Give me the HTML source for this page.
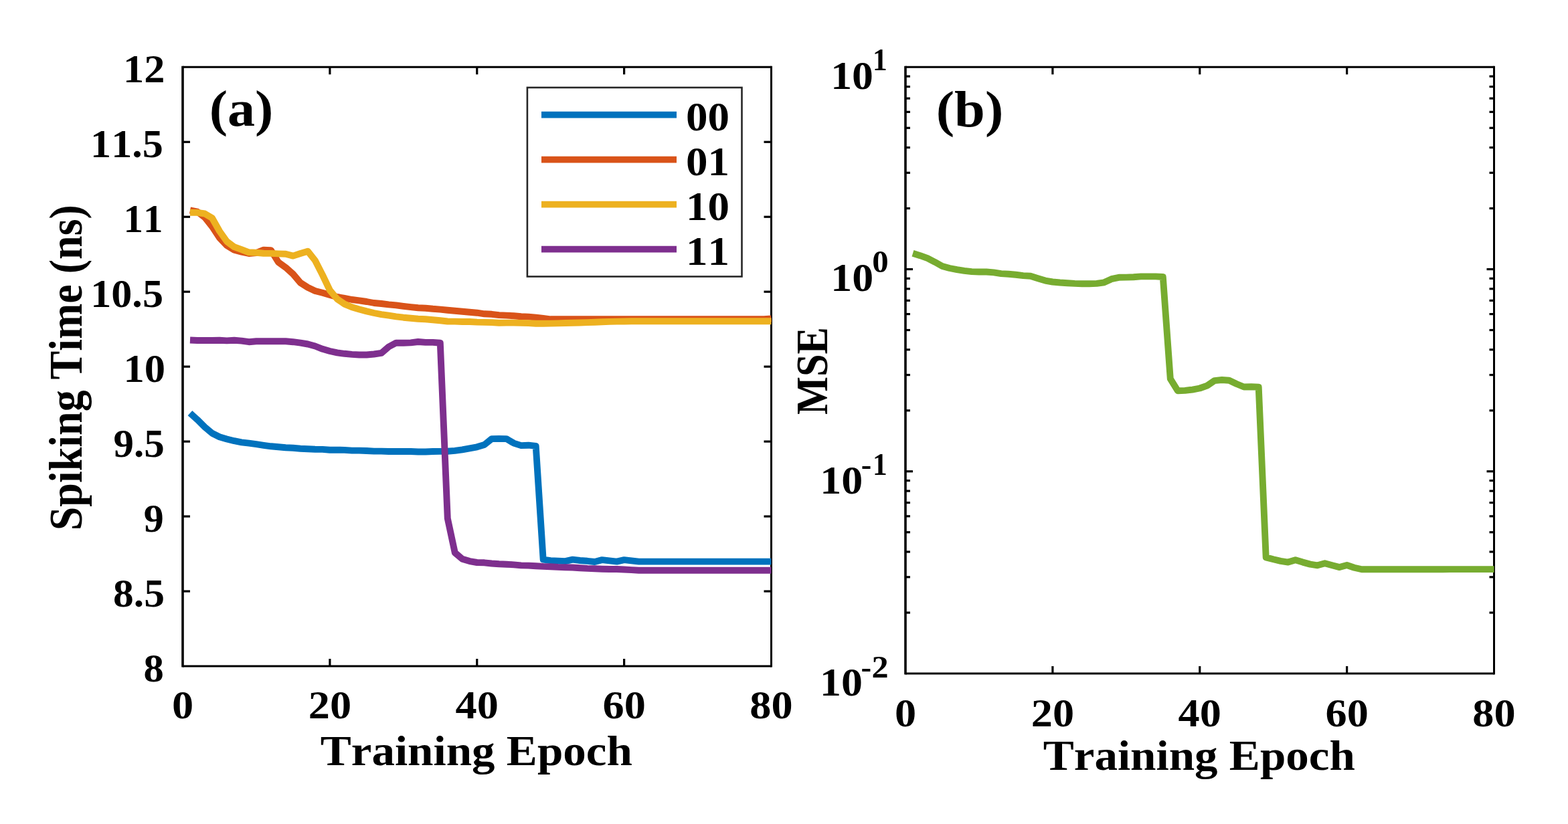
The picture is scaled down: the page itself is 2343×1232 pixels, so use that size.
<!DOCTYPE html>
<html><head><meta charset="utf-8"><style>
html,body{margin:0;padding:0;background:#fff;}
svg{display:block;} text{font-kerning:none;font-feature-settings:"kern" 0;}
</style></head><body>
<svg width="2343" height="1232" viewBox="0 0 2343 1232" font-family="&quot;Liberation Serif&quot;, serif" font-weight="bold" fill="#000">
<rect width="2343" height="1232" fill="#fff"/>
<line x1="273.0" y1="98.8" x2="273.0" y2="997.5" stroke="#000" stroke-width="3.6"/>
<line x1="1152.5" y1="98.8" x2="1152.5" y2="997.5" stroke="#000" stroke-width="3"/>
<line x1="273.0" y1="100.3" x2="1152.5" y2="100.3" stroke="#000" stroke-width="3"/>
<line x1="273.0" y1="996.0" x2="1152.5" y2="996.0" stroke="#000" stroke-width="3"/>
<line x1="273.0" y1="884.04" x2="284.0" y2="884.04" stroke="#000" stroke-width="3.2"/>
<line x1="1152.5" y1="884.04" x2="1141.5" y2="884.04" stroke="#000" stroke-width="3.2"/>
<line x1="273.0" y1="772.08" x2="284.0" y2="772.08" stroke="#000" stroke-width="3.2"/>
<line x1="1152.5" y1="772.08" x2="1141.5" y2="772.08" stroke="#000" stroke-width="3.2"/>
<line x1="273.0" y1="660.11" x2="284.0" y2="660.11" stroke="#000" stroke-width="3.2"/>
<line x1="1152.5" y1="660.11" x2="1141.5" y2="660.11" stroke="#000" stroke-width="3.2"/>
<line x1="273.0" y1="548.15" x2="284.0" y2="548.15" stroke="#000" stroke-width="3.2"/>
<line x1="1152.5" y1="548.15" x2="1141.5" y2="548.15" stroke="#000" stroke-width="3.2"/>
<line x1="273.0" y1="436.19" x2="284.0" y2="436.19" stroke="#000" stroke-width="3.2"/>
<line x1="1152.5" y1="436.19" x2="1141.5" y2="436.19" stroke="#000" stroke-width="3.2"/>
<line x1="273.0" y1="324.23" x2="284.0" y2="324.23" stroke="#000" stroke-width="3.2"/>
<line x1="1152.5" y1="324.23" x2="1141.5" y2="324.23" stroke="#000" stroke-width="3.2"/>
<line x1="273.0" y1="212.26" x2="284.0" y2="212.26" stroke="#000" stroke-width="3.2"/>
<line x1="1152.5" y1="212.26" x2="1141.5" y2="212.26" stroke="#000" stroke-width="3.2"/>
<line x1="492.88" y1="996.0" x2="492.88" y2="985.0" stroke="#000" stroke-width="3.2"/>
<line x1="492.88" y1="100.3" x2="492.88" y2="111.3" stroke="#000" stroke-width="3.2"/>
<line x1="712.75" y1="996.0" x2="712.75" y2="985.0" stroke="#000" stroke-width="3.2"/>
<line x1="712.75" y1="100.3" x2="712.75" y2="111.3" stroke="#000" stroke-width="3.2"/>
<line x1="932.62" y1="996.0" x2="932.62" y2="985.0" stroke="#000" stroke-width="3.2"/>
<line x1="932.62" y1="100.3" x2="932.62" y2="111.3" stroke="#000" stroke-width="3.2"/>
<polyline points="283.99,617.60 294.99,627.60 305.98,638.50 316.98,647.70 327.97,653.20 338.96,656.50 349.96,659.20 360.95,661.30 371.94,662.60 382.94,664.10 393.93,665.80 404.93,667.30 415.92,668.30 426.91,669.20 437.91,669.70 448.90,670.70 459.89,671.20 470.89,671.70 481.88,671.90 492.88,672.70 503.87,672.70 514.86,672.90 525.86,673.60 536.85,673.60 547.84,674.00 558.84,674.60 569.83,674.60 580.83,675.00 591.82,675.00 602.81,675.00 613.81,675.00 624.80,675.50 635.79,675.50 646.79,675.00 657.78,674.90 668.77,674.70 679.77,673.90 690.76,672.40 701.76,670.30 712.75,668.30 723.74,665.00 734.74,656.10 745.73,656.00 756.73,656.10 767.72,662.60 778.71,666.10 789.71,665.70 800.70,666.90 811.69,836.70 822.69,838.10 833.68,838.60 844.67,839.10 855.67,836.70 866.66,838.00 877.66,838.80 888.65,840.00 899.64,837.10 910.64,838.40 921.63,839.60 932.62,837.10 943.62,838.40 954.61,839.60 965.61,839.60 976.60,839.60 987.59,839.60 998.59,839.60 1009.58,839.60 1020.58,839.60 1031.57,839.60 1042.56,839.60 1053.56,839.60 1064.55,839.60 1075.54,839.60 1086.54,839.60 1097.53,839.60 1108.53,839.60 1119.52,839.60 1130.51,839.60 1141.51,839.60 1152.50,839.60" fill="none" stroke="#0072BD" stroke-width="9.9" stroke-linejoin="round" stroke-linecap="butt"/>
<polyline points="283.99,314.30 294.99,316.60 305.98,325.00 316.98,338.80 327.97,355.50 338.96,367.00 349.96,373.70 360.95,376.60 371.94,379.00 382.94,378.10 393.93,373.70 404.93,374.10 415.92,392.00 426.91,399.90 437.91,409.80 448.90,422.80 459.89,429.80 470.89,435.00 481.88,437.80 492.88,440.90 503.87,444.00 514.86,445.90 525.86,448.00 536.85,449.30 547.84,451.00 558.84,453.00 569.83,454.00 580.83,455.40 591.82,456.40 602.81,457.90 613.81,459.20 624.80,460.30 635.79,460.70 646.79,461.80 657.78,462.60 668.77,463.70 679.77,464.70 690.76,465.70 701.76,466.70 712.75,467.70 723.74,469.30 734.74,469.80 745.73,471.10 756.73,471.60 767.72,472.30 778.71,473.30 789.71,473.60 800.70,474.60 811.69,476.00 822.69,477.30 833.68,477.30 844.67,477.30 855.67,477.30 866.66,477.30 877.66,477.30 888.65,477.30 899.64,477.30 910.64,477.30 921.63,477.30 932.62,477.30 943.62,477.30 954.61,477.30 965.61,477.30 976.60,477.30 987.59,477.30 998.59,477.30 1009.58,477.30 1020.58,477.30 1031.57,477.30 1042.56,477.30 1053.56,477.30 1064.55,477.30 1075.54,477.30 1086.54,477.30 1097.53,477.30 1108.53,477.30 1119.52,477.30 1130.51,477.30 1141.51,477.30 1152.50,476.40" fill="none" stroke="#D95319" stroke-width="9.9" stroke-linejoin="round" stroke-linecap="butt"/>
<polyline points="283.99,317.70 294.99,317.90 305.98,319.50 316.98,326.00 327.97,345.50 338.96,361.00 349.96,369.20 360.95,373.10 371.94,377.30 382.94,377.70 393.93,378.80 404.93,378.90 415.92,379.40 426.91,379.80 437.91,382.60 448.90,379.00 459.89,375.70 470.89,389.50 481.88,411.00 492.88,434.00 503.87,447.10 514.86,454.60 525.86,459.30 536.85,462.50 547.84,465.40 558.84,468.00 569.83,470.10 580.83,471.70 591.82,473.40 602.81,474.70 613.81,475.70 624.80,476.70 635.79,477.30 646.79,478.20 657.78,479.30 668.77,480.50 679.77,480.60 690.76,481.00 701.76,481.00 712.75,481.60 723.74,481.90 734.74,482.10 745.73,482.80 756.73,482.60 767.72,482.60 778.71,482.90 789.71,483.10 800.70,483.80 811.69,483.80 822.69,483.60 833.68,483.40 844.67,483.07 855.67,482.75 866.66,482.43 877.66,482.10 888.65,481.70 899.64,481.30 910.64,480.90 921.63,480.67 932.62,480.43 943.62,480.20 954.61,480.30 965.61,480.30 976.60,480.30 987.59,480.30 998.59,480.30 1009.58,480.30 1020.58,480.30 1031.57,480.30 1042.56,480.30 1053.56,480.30 1064.55,480.30 1075.54,480.30 1086.54,480.30 1097.53,480.30 1108.53,480.30 1119.52,480.30 1130.51,480.30 1141.51,480.30 1152.50,480.30" fill="none" stroke="#EDB120" stroke-width="9.9" stroke-linejoin="round" stroke-linecap="butt"/>
<polyline points="283.99,508.50 294.99,509.00 305.98,509.00 316.98,509.00 327.97,508.80 338.96,509.40 349.96,508.80 360.95,509.60 371.94,511.20 382.94,510.30 393.93,510.30 404.93,510.30 415.92,510.30 426.91,510.30 437.91,511.20 448.90,512.60 459.89,514.50 470.89,517.50 481.88,521.80 492.88,525.00 503.87,527.40 514.86,528.80 525.86,529.90 536.85,530.50 547.84,530.50 558.84,529.50 569.83,527.90 580.83,518.50 591.82,512.60 602.81,512.80 613.81,512.40 624.80,511.00 635.79,511.90 646.79,511.90 657.78,512.80 668.77,775.00 679.77,826.40 690.76,835.70 701.76,839.10 712.75,841.00 723.74,841.30 734.74,842.50 745.73,843.30 756.73,843.70 767.72,844.40 778.71,845.40 789.71,845.60 800.70,846.20 811.69,846.90 822.69,847.20 833.68,847.90 844.67,848.30 855.67,848.50 866.66,849.20 877.66,849.90 888.65,850.20 899.64,850.70 910.64,851.00 921.63,851.00 932.62,851.50 943.62,852.10 954.61,852.80 965.61,852.80 976.60,852.80 987.59,852.80 998.59,852.80 1009.58,852.80 1020.58,852.80 1031.57,852.80 1042.56,852.80 1053.56,852.80 1064.55,852.80 1075.54,852.80 1086.54,852.80 1097.53,852.80 1108.53,852.80 1119.52,852.80 1130.51,852.80 1141.51,852.80 1152.50,852.80" fill="none" stroke="#7E2F8E" stroke-width="9.9" stroke-linejoin="round" stroke-linecap="butt"/>
<text transform="translate(214.39,1018.50) scale(1.0281,1)" font-size="59">8</text>
<text transform="translate(169.06,906.54) scale(1.0426,1)" font-size="59">8.5</text>
<text transform="translate(214.76,794.58) scale(1.0173,1)" font-size="59">9</text>
<text transform="translate(169.53,682.61) scale(1.0332,1)" font-size="59">9.5</text>
<text transform="translate(184.39,570.65) scale(1.0610,1)" font-size="59">10</text>
<text transform="translate(135.22,458.69) scale(1.0533,1)" font-size="59">10.5</text>
<text transform="translate(184.58,346.73) scale(0.9996,1)" font-size="59">11</text>
<text transform="translate(135.12,234.76) scale(1.0533,1)" font-size="59">11.5</text>
<text transform="translate(184.11,122.80) scale(1.0572,1)" font-size="59">12</text>
<text transform="translate(273.00,1074.30) scale(1.09,1)" font-size="59" text-anchor="middle" >0</text>
<text transform="translate(492.88,1074.30) scale(1.09,1)" font-size="59" text-anchor="middle" >20</text>
<text transform="translate(712.75,1074.30) scale(1.09,1)" font-size="59" text-anchor="middle" >40</text>
<text transform="translate(932.62,1074.30) scale(1.09,1)" font-size="59" text-anchor="middle" >60</text>
<text transform="translate(1152.50,1074.30) scale(1.09,1)" font-size="59" text-anchor="middle" >80</text>
<text transform="translate(478.72,1143.80) scale(1.0789,1)" font-size="64">Training Epoch</text>
<text transform="translate(122.0,549.7) rotate(-90) scale(1,1.08)" font-size="64" text-anchor="middle">Spiking Time (ns)</text>
<text transform="translate(312.69,187.80) scale(1.0801,1)" font-size="76">(a)</text>
<rect x="787.9" y="130.9" width="320.6" height="282.6" fill="#fff" stroke="#262626" stroke-width="2.6"/>
<line x1="809" y1="171.6" x2="1011" y2="171.6" stroke="#0072BD" stroke-width="9.9"/>
<text transform="translate(1025.00,195.00) scale(1.075,1)" font-size="60.5" text-anchor="start" >00</text>
<line x1="809" y1="238.6" x2="1011" y2="238.6" stroke="#D95319" stroke-width="9.9"/>
<text transform="translate(1025.00,262.00) scale(1.075,1)" font-size="60.5" text-anchor="start" >01</text>
<line x1="809" y1="305.6" x2="1011" y2="305.6" stroke="#EDB120" stroke-width="9.9"/>
<text transform="translate(1025.00,329.00) scale(1.075,1)" font-size="60.5" text-anchor="start" >10</text>
<line x1="809" y1="372.6" x2="1011" y2="372.6" stroke="#7E2F8E" stroke-width="9.9"/>
<text transform="translate(1025.00,396.00) scale(1.075,1)" font-size="60.5" text-anchor="start" >11</text>
<line x1="1353.0" y1="98.8" x2="1353.0" y2="1008.5" stroke="#000" stroke-width="3.6"/>
<line x1="2232.5" y1="98.8" x2="2232.5" y2="1008.5" stroke="#000" stroke-width="3"/>
<line x1="1353.0" y1="100.3" x2="2232.5" y2="100.3" stroke="#000" stroke-width="3"/>
<line x1="1353.0" y1="1007.0" x2="2232.5" y2="1007.0" stroke="#000" stroke-width="3"/>
<line x1="1353.0" y1="402.53" x2="1364.0" y2="402.53" stroke="#000" stroke-width="3.2"/>
<line x1="2232.5" y1="402.53" x2="2221.5" y2="402.53" stroke="#000" stroke-width="3.2"/>
<line x1="1353.0" y1="704.77" x2="1364.0" y2="704.77" stroke="#000" stroke-width="3.2"/>
<line x1="2232.5" y1="704.77" x2="2221.5" y2="704.77" stroke="#000" stroke-width="3.2"/>
<line x1="1353.0" y1="916.02" x2="1360.0" y2="916.02" stroke="#000" stroke-width="3.2"/>
<line x1="2232.5" y1="916.02" x2="2225.5" y2="916.02" stroke="#000" stroke-width="3.2"/>
<line x1="1353.0" y1="862.80" x2="1360.0" y2="862.80" stroke="#000" stroke-width="3.2"/>
<line x1="2232.5" y1="862.80" x2="2225.5" y2="862.80" stroke="#000" stroke-width="3.2"/>
<line x1="1353.0" y1="825.04" x2="1360.0" y2="825.04" stroke="#000" stroke-width="3.2"/>
<line x1="2232.5" y1="825.04" x2="2225.5" y2="825.04" stroke="#000" stroke-width="3.2"/>
<line x1="1353.0" y1="795.75" x2="1360.0" y2="795.75" stroke="#000" stroke-width="3.2"/>
<line x1="2232.5" y1="795.75" x2="2225.5" y2="795.75" stroke="#000" stroke-width="3.2"/>
<line x1="1353.0" y1="771.82" x2="1360.0" y2="771.82" stroke="#000" stroke-width="3.2"/>
<line x1="2232.5" y1="771.82" x2="2225.5" y2="771.82" stroke="#000" stroke-width="3.2"/>
<line x1="1353.0" y1="751.58" x2="1360.0" y2="751.58" stroke="#000" stroke-width="3.2"/>
<line x1="2232.5" y1="751.58" x2="2225.5" y2="751.58" stroke="#000" stroke-width="3.2"/>
<line x1="1353.0" y1="734.06" x2="1360.0" y2="734.06" stroke="#000" stroke-width="3.2"/>
<line x1="2232.5" y1="734.06" x2="2225.5" y2="734.06" stroke="#000" stroke-width="3.2"/>
<line x1="1353.0" y1="718.60" x2="1360.0" y2="718.60" stroke="#000" stroke-width="3.2"/>
<line x1="2232.5" y1="718.60" x2="2225.5" y2="718.60" stroke="#000" stroke-width="3.2"/>
<line x1="1353.0" y1="613.79" x2="1360.0" y2="613.79" stroke="#000" stroke-width="3.2"/>
<line x1="2232.5" y1="613.79" x2="2225.5" y2="613.79" stroke="#000" stroke-width="3.2"/>
<line x1="1353.0" y1="560.56" x2="1360.0" y2="560.56" stroke="#000" stroke-width="3.2"/>
<line x1="2232.5" y1="560.56" x2="2225.5" y2="560.56" stroke="#000" stroke-width="3.2"/>
<line x1="1353.0" y1="522.80" x2="1360.0" y2="522.80" stroke="#000" stroke-width="3.2"/>
<line x1="2232.5" y1="522.80" x2="2225.5" y2="522.80" stroke="#000" stroke-width="3.2"/>
<line x1="1353.0" y1="493.51" x2="1360.0" y2="493.51" stroke="#000" stroke-width="3.2"/>
<line x1="2232.5" y1="493.51" x2="2225.5" y2="493.51" stroke="#000" stroke-width="3.2"/>
<line x1="1353.0" y1="469.58" x2="1360.0" y2="469.58" stroke="#000" stroke-width="3.2"/>
<line x1="2232.5" y1="469.58" x2="2225.5" y2="469.58" stroke="#000" stroke-width="3.2"/>
<line x1="1353.0" y1="449.35" x2="1360.0" y2="449.35" stroke="#000" stroke-width="3.2"/>
<line x1="2232.5" y1="449.35" x2="2225.5" y2="449.35" stroke="#000" stroke-width="3.2"/>
<line x1="1353.0" y1="431.82" x2="1360.0" y2="431.82" stroke="#000" stroke-width="3.2"/>
<line x1="2232.5" y1="431.82" x2="2225.5" y2="431.82" stroke="#000" stroke-width="3.2"/>
<line x1="1353.0" y1="416.36" x2="1360.0" y2="416.36" stroke="#000" stroke-width="3.2"/>
<line x1="2232.5" y1="416.36" x2="2225.5" y2="416.36" stroke="#000" stroke-width="3.2"/>
<line x1="1353.0" y1="311.55" x2="1360.0" y2="311.55" stroke="#000" stroke-width="3.2"/>
<line x1="2232.5" y1="311.55" x2="2225.5" y2="311.55" stroke="#000" stroke-width="3.2"/>
<line x1="1353.0" y1="258.33" x2="1360.0" y2="258.33" stroke="#000" stroke-width="3.2"/>
<line x1="2232.5" y1="258.33" x2="2225.5" y2="258.33" stroke="#000" stroke-width="3.2"/>
<line x1="1353.0" y1="220.57" x2="1360.0" y2="220.57" stroke="#000" stroke-width="3.2"/>
<line x1="2232.5" y1="220.57" x2="2225.5" y2="220.57" stroke="#000" stroke-width="3.2"/>
<line x1="1353.0" y1="191.28" x2="1360.0" y2="191.28" stroke="#000" stroke-width="3.2"/>
<line x1="2232.5" y1="191.28" x2="2225.5" y2="191.28" stroke="#000" stroke-width="3.2"/>
<line x1="1353.0" y1="167.35" x2="1360.0" y2="167.35" stroke="#000" stroke-width="3.2"/>
<line x1="2232.5" y1="167.35" x2="2225.5" y2="167.35" stroke="#000" stroke-width="3.2"/>
<line x1="1353.0" y1="147.12" x2="1360.0" y2="147.12" stroke="#000" stroke-width="3.2"/>
<line x1="2232.5" y1="147.12" x2="2225.5" y2="147.12" stroke="#000" stroke-width="3.2"/>
<line x1="1353.0" y1="129.59" x2="1360.0" y2="129.59" stroke="#000" stroke-width="3.2"/>
<line x1="2232.5" y1="129.59" x2="2225.5" y2="129.59" stroke="#000" stroke-width="3.2"/>
<line x1="1353.0" y1="114.13" x2="1360.0" y2="114.13" stroke="#000" stroke-width="3.2"/>
<line x1="2232.5" y1="114.13" x2="2225.5" y2="114.13" stroke="#000" stroke-width="3.2"/>
<line x1="1572.88" y1="1007.0" x2="1572.88" y2="996.0" stroke="#000" stroke-width="3.2"/>
<line x1="1572.88" y1="100.3" x2="1572.88" y2="111.3" stroke="#000" stroke-width="3.2"/>
<line x1="1792.75" y1="1007.0" x2="1792.75" y2="996.0" stroke="#000" stroke-width="3.2"/>
<line x1="1792.75" y1="100.3" x2="1792.75" y2="111.3" stroke="#000" stroke-width="3.2"/>
<line x1="2012.62" y1="1007.0" x2="2012.62" y2="996.0" stroke="#000" stroke-width="3.2"/>
<line x1="2012.62" y1="100.3" x2="2012.62" y2="111.3" stroke="#000" stroke-width="3.2"/>
<polyline points="1363.99,378.80 1374.99,382.20 1385.98,386.10 1396.97,391.80 1407.97,398.00 1418.96,401.00 1429.96,403.10 1440.95,404.80 1451.94,406.10 1462.94,406.50 1473.93,406.50 1484.92,407.40 1495.92,409.10 1506.91,409.70 1517.91,410.80 1528.90,412.10 1539.89,412.80 1550.89,416.20 1561.88,419.60 1572.88,421.50 1583.87,422.50 1594.86,423.20 1605.86,423.90 1616.85,424.20 1627.84,424.20 1638.84,423.90 1649.83,422.30 1660.83,417.20 1671.82,414.80 1682.81,414.60 1693.81,414.20 1704.80,413.40 1715.79,413.40 1726.79,413.40 1737.78,414.00 1748.78,566.40 1759.77,584.20 1770.76,583.90 1781.76,582.60 1792.75,580.50 1803.74,576.60 1814.74,569.10 1825.73,568.00 1836.72,568.80 1847.72,574.00 1858.71,578.50 1869.71,578.20 1880.70,578.80 1891.69,833.40 1902.69,836.30 1913.68,838.90 1924.67,840.60 1935.67,837.20 1946.66,840.60 1957.66,843.60 1968.65,845.30 1979.64,842.30 1990.64,845.30 2001.63,848.10 2012.62,845.00 2023.62,848.70 2034.61,851.30 2045.61,851.29 2056.60,851.28 2067.59,851.27 2078.59,851.26 2089.58,851.24 2100.57,851.23 2111.57,851.22 2122.56,851.21 2133.56,851.20 2144.55,851.19 2155.54,851.18 2166.54,851.17 2177.53,851.16 2188.53,851.14 2199.52,851.13 2210.51,851.12 2221.51,851.11 2232.50,851.10" fill="none" stroke="#77AC30" stroke-width="9.9" stroke-linejoin="round" stroke-linecap="butt"/>
<text transform="translate(1353.00,1085.80) scale(1.09,1)" font-size="59" text-anchor="middle" >0</text>
<text transform="translate(1572.88,1085.80) scale(1.09,1)" font-size="59" text-anchor="middle" >20</text>
<text transform="translate(1792.75,1085.80) scale(1.09,1)" font-size="59" text-anchor="middle" >40</text>
<text transform="translate(2012.62,1085.80) scale(1.09,1)" font-size="59" text-anchor="middle" >60</text>
<text transform="translate(2232.50,1085.80) scale(1.09,1)" font-size="59" text-anchor="middle" >80</text>
<text transform="translate(1558.72,1151.10) scale(1.0789,1)" font-size="64">Training Epoch</text>
<text transform="translate(1236.0,554.6) rotate(-90) scale(0.945,1.045)" font-size="64" text-anchor="middle">MSE</text>
<text transform="translate(1398.68,188.60) scale(1.0835,1)" font-size="76">(b)</text>
<text transform="translate(1241.20,132.70) scale(1.0802,1)" font-size="59">10</text>
<text transform="translate(1303.92,104.70) scale(0.9551,1)" font-size="45.5">1</text>
<text transform="translate(1241.29,434.60) scale(1.0821,1)" font-size="59">10</text>
<text transform="translate(1303.24,407.30) scale(1.0734,1)" font-size="45.5">0</text>
<text transform="translate(1225.27,737.50) scale(1.0859,1)" font-size="59">10</text>
<text transform="translate(1286.79,709.70) scale(1.0237,1)" font-size="45.5">-</text>
<text transform="translate(1303.92,709.70) scale(0.9551,1)" font-size="45.5">1</text>
<text transform="translate(1225.08,1039.80) scale(1.0840,1)" font-size="59">10</text>
<text transform="translate(1286.58,1012.90) scale(1.0322,1)" font-size="45.5">-</text>
<text transform="translate(1302.49,1012.90) scale(1.1067,1)" font-size="45.5">2</text>
</svg>
</body></html>
